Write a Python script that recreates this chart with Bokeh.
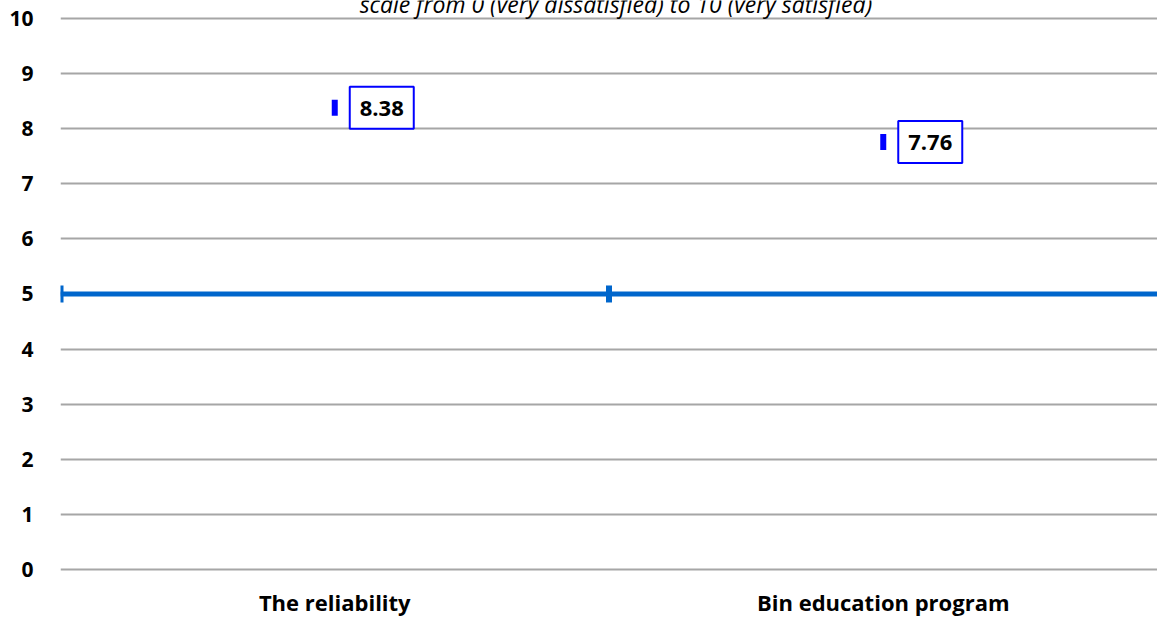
from bokeh.plotting import figure
from bokeh.models import Range1d, FixedTicker, Span, Label
from bokeh.embed import file_html
from bokeh.resources import INLINE
from bokeh.core.properties import value

# ---- data ----
categories = ["The reliability", "Bin education program"]
scores = [8.38, 7.76]
reference_level = 5
y_ticks = [0, 1, 2, 3, 4, 5, 6, 7, 8, 9, 10]
title_text = "scale from 0 (very dissatisfied) to 10 (very satisfied)"

FONT = "Open Sans"
x_centers = [i + 0.5 for i in range(len(categories))]
boundaries = [i for i in range(len(categories))]

# layout: frame spans canvas rows 0..572; value 0 sits at row 570, 10 at row 18
PX = 55.2
FRAME_H = 572
Y0 = -2 / PX
Y1 = Y0 + FRAME_H / PX

p = figure(width=1157, height=619, output_backend="svg", toolbar_location=None,
           x_range=Range1d(0, len(categories)), y_range=Range1d(Y0, Y1),
           min_border_left=60, min_border_right=0, min_border_top=0,
           min_border_bottom=619 - FRAME_H)
p.outline_line_color = None
p.background_fill_color = "white"
p.border_fill_color = "white"

# axes
for ax in (p.xaxis, p.yaxis):
    ax.axis_line_color = None
    ax.major_tick_line_color = None
    ax.minor_tick_line_color = None
    ax.major_tick_out = 0
    ax.major_tick_in = 0
    ax.minor_tick_out = 0
    ax.major_label_text_font = FONT
    ax.major_label_text_font_style = "bold"
    ax.major_label_text_color = "black"

p.yaxis.ticker = FixedTicker(ticks=y_ticks)
p.yaxis.major_label_standoff = 27
p.yaxis.major_label_text_font_size = "21px"

p.xaxis.ticker = FixedTicker(ticks=x_centers)
p.xaxis.major_label_overrides = {c: lab for c, lab in zip(x_centers, categories)}
p.xaxis.major_label_standoff = 15
p.xaxis.major_label_text_font_size = "22px"

p.xgrid.grid_line_color = None
p.ygrid.ticker = FixedTicker(ticks=y_ticks)
p.ygrid.grid_line_color = "#A6A6A6"
p.ygrid.grid_line_width = 2

# reference line at 5 with category boundary ticks
p.add_layout(Span(location=reference_level, dimension="width",
                  line_color="#0066CC", line_width=5))
p.rect(x=boundaries, y=[reference_level] * len(boundaries), width=6, height=17,
       width_units="screen", height_units="screen",
       fill_color="#0066CC", line_color=None)

# score markers
p.rect(x=x_centers, y=scores, width=6, height=16,
       width_units="screen", height_units="screen",
       fill_color="#0000FF", line_color=None)

# value labels
p.text(x=x_centers, y=scores, text=[f"{s:.2f}" for s in scores],
       x_offset=15, text_align="left", text_baseline="middle",
       text_font=value(FONT), text_font_style="bold", text_font_size="22px",
       text_color="black", padding=dict(left=10, right=10, top=14, bottom=13),
       background_fill_color="white", border_line_color="#0000FF",
       border_line_width=2)

# subtitle at the very top (cut off by the top edge, as in the original)
p.add_layout(Label(x=len(categories) / 2, y=max(y_ticks), x_offset=7, y_offset=14,
                   text=title_text,
                   text_align="center", text_baseline="alphabetic",
                   text_font=FONT, text_font_style="italic",
                   text_font_size="23px", text_color="black"))

open("out.html", "w").write(file_html(p, INLINE))
